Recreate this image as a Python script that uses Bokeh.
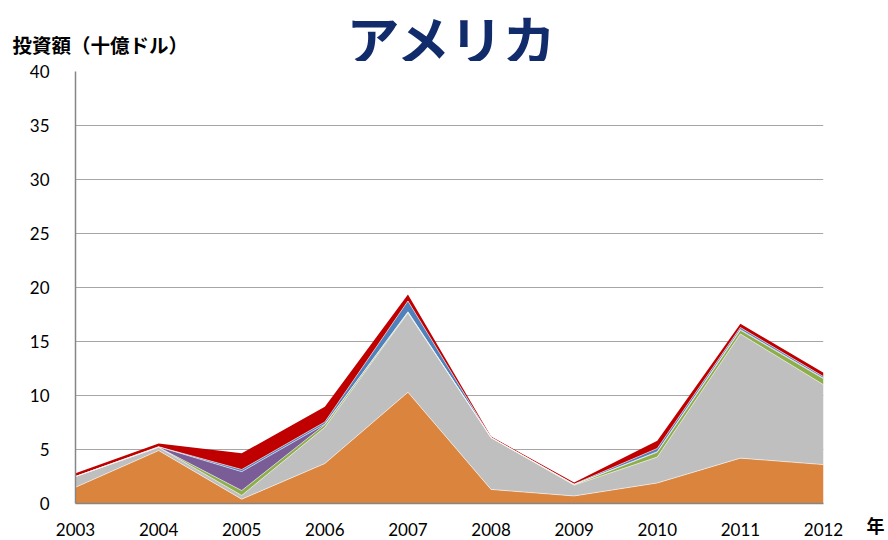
from bokeh.plotting import figure
from bokeh.models import ColumnDataSource, Label, Range1d, FixedTicker
from bokeh.layouts import column, row
from bokeh.embed import file_html
from bokeh.resources import INLINE

years = [2003, 2004, 2005, 2006, 2007, 2008, 2009, 2010, 2011, 2012]
s_orange = [1.5, 4.9, 0.4, 3.7, 10.3, 1.3, 0.7, 1.9, 4.2, 3.6]
s_gray   = [1.0, 0.3, 0.35, 3.35, 7.35, 4.8, 1.0, 2.4, 11.5, 7.4]
s_green  = [0.0, 0.0, 0.45, 0.25, 0.05, 0.0, 0.05, 0.45, 0.35, 0.55]
s_purple = [0.0, 0.05, 1.75, 0.05, 0.05, 0.0, 0.0, 0.05, 0.05, 0.05]
s_blue   = [0.0, 0.0, 0.2, 0.2, 1.0, 0.0, 0.05, 0.3, 0.2, 0.15]
s_red    = [0.3, 0.3, 1.5, 1.4, 0.6, 0.1, 0.15, 0.7, 0.35, 0.35]
y_ticks = [0, 5, 10, 15, 20, 25, 30, 35, 40]

title_text = "アメリカ"
ylabel_text = "投資額（十億ドル）"
xlabel_text = "年"

names = ["orange", "gray", "green", "purple", "blue", "red"]
colors = ["#DB843D", "#BFBFBF", "#8EAD4B", "#7A5C96", "#4F81BD", "#C00000"]

source = ColumnDataSource(dict(year=years, orange=s_orange, gray=s_gray, green=s_green,
                               purple=s_purple, blue=s_blue, red=s_red))

TOP_H = 61
MAIN_H = 540 - TOP_H

# top strip: title and y-axis caption
top = figure(width=888, height=TOP_H, output_backend="svg", toolbar_location=None, title=None,
             x_range=Range1d(0, 888), y_range=Range1d(TOP_H, 0),
             x_axis_type=None, y_axis_type=None, min_border=0)
top.outline_line_color = None
top.border_fill_color = "white"
top.add_layout(Label(x=452, y=37, text=title_text, text_align="center", text_baseline="middle",
                     text_font="Noto Sans CJK JP", text_font_size="53px", text_font_style="bold",
                     text_color="#112B6B"))
top.add_layout(Label(x=12, y=44, text=ylabel_text, text_align="left", text_baseline="middle",
                     text_font="Noto Sans CJK JP", text_font_size="19.5px", text_font_style="bold",
                     text_color="#000000"))

# main chart
p = figure(width=848, height=MAIN_H, output_backend="svg", toolbar_location=None, title=None,
           x_range=Range1d(2003, 2012), y_range=Range1d(0, 40),
           min_border_left=75, min_border_right=25, min_border_top=10, min_border_bottom=37)
p.outline_line_color = None
p.background_fill_color = "white"
p.border_fill_color = "white"

p.varea_stack(stackers=names, x="year", color=colors, source=source)
p.vline_stack(stackers=names[:-1], x="year", color="white", line_width=0.7, line_alpha=0.8, source=source)

p.xgrid.grid_line_color = None
p.ygrid.grid_line_color = "#A6A6A6"
p.ygrid.grid_line_width = 1.2
p.ygrid.ticker = FixedTicker(ticks=y_ticks)

p.yaxis.ticker = FixedTicker(ticks=y_ticks)
p.xaxis.ticker = FixedTicker(ticks=years)
p.xaxis.major_label_overrides = {y: str(y) for y in years}
for ax in (p.xaxis, p.yaxis):
    ax.axis_line_color = "#868686"
    ax.axis_line_width = 1.5
    ax.major_tick_line_color = None
    ax.minor_tick_line_color = None
    ax.major_label_text_font = "Lato"
    ax.major_label_text_font_size = "17px"
    ax.major_label_text_color = "#000000"
p.yaxis.major_label_standoff = 20
p.xaxis.major_label_standoff = 13

# right strip: x-axis caption "年" shown on the row of the year labels
right = figure(width=40, height=MAIN_H, output_backend="svg", toolbar_location=None, title=None,
               x_range=Range1d(0, 40), y_range=Range1d(0, 40), y_axis_type=None,
               min_border_left=0, min_border_right=0, min_border_top=10, min_border_bottom=37)
right.outline_line_color = None
right.border_fill_color = "white"
right.xgrid.visible = False
right.xaxis.ticker = FixedTicker(ticks=[27])
right.xaxis.major_label_overrides = {27: xlabel_text}
right.xaxis.axis_line_color = None
right.xaxis.major_tick_line_color = None
right.xaxis.minor_tick_line_color = None
right.xaxis.major_label_text_font = "Noto Sans CJK JP"
right.xaxis.major_label_text_font_size = "18px"
right.xaxis.major_label_text_font_style = "bold"
right.xaxis.major_label_text_color = "#000000"
right.xaxis.major_label_standoff = 2

layout = column(top, row(p, right, spacing=0), spacing=0)

open("out.html", "w").write(file_html(layout, INLINE))
